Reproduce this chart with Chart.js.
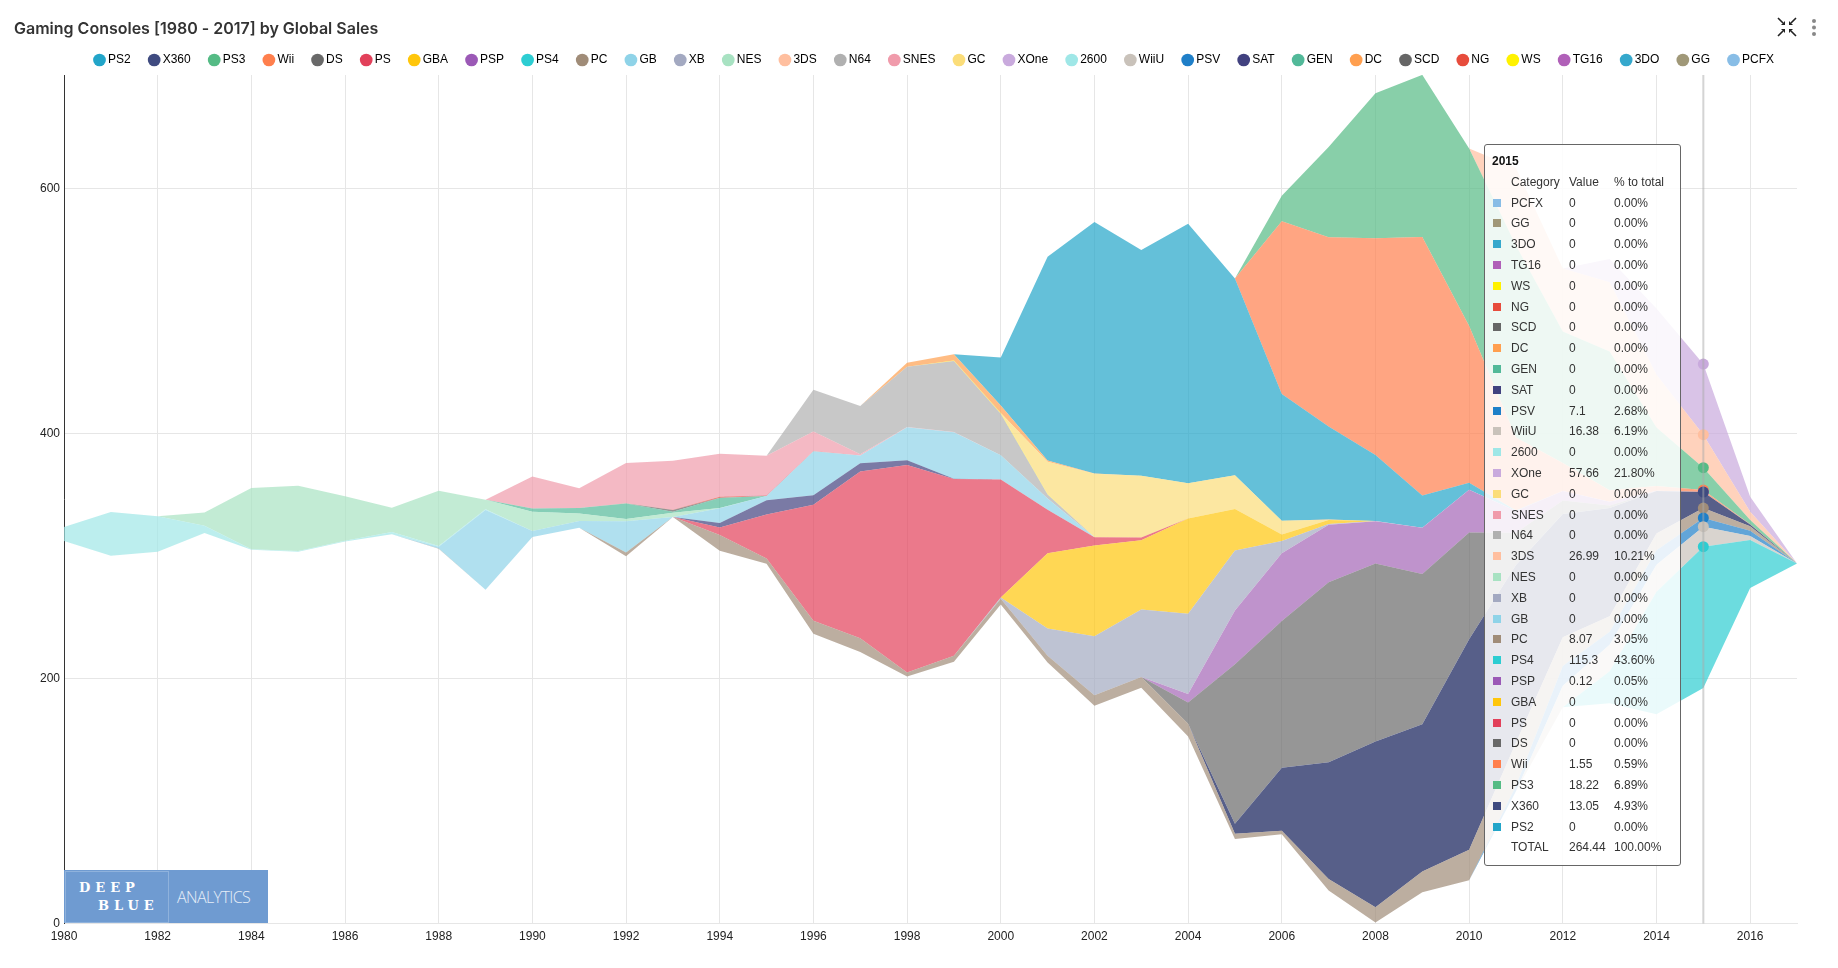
<!DOCTYPE html>
<html>
<head>
<meta charset="utf-8">
<title>Gaming Consoles</title>
<script src="https://cdn.jsdelivr.net/npm/chart.js@4"></script>
<style>
  body { margin: 0; background: #fff; font-family: "Liberation Sans", sans-serif; color: #333; }
  #wrap { position: relative; width: 1838px; height: 968px; overflow: hidden; }
  #logo { position: absolute; left: 64px; top: 870px; width: 204px; height: 53px; background: #6f9bd1; }
  #logo .box { position: absolute; left: 1px; top: 1px; width: 102px; height: 50px; border: 1px solid #8fb2dc; }
  #logo .w { position: absolute; color: #fff; font: bold 13px "DejaVu Serif"; letter-spacing: 5px; }
  #logo .a { position: absolute; left: 113px; top: 16px; color: #e6eef8; font: 300 16px "Open Sans"; letter-spacing: -0.6px; }
  #tip { position: absolute; left: 1484px; top: 144px; width: 195px; height: 720px; box-sizing: content-box;
         background: rgba(255,255,255,.86); border: 1px solid #666; border-radius: 3px; font-size: 12px; }
  #tip div { position: absolute; white-space: nowrap; line-height: 14px; }
  #tip .sq { width: 8px; height: 8px; }
  #icons { position: absolute; left: 1775px; top: 15px; }
</style>
</head>
<body>
<div id="wrap">
  <canvas id="grafico"></canvas>
  <div id="logo">
    <div class="box"></div>
    <div class="w" style="left:15px;top:10px">DEEP</div>
    <div class="w" style="left:34px;top:28px">BLUE</div>
    <div class="a">ANALYTICS</div>
  </div>
  <div id="tip"></div>
  <svg id="icons" width="50" height="24" viewBox="0 0 50 24">
    <g fill="none" stroke="#222" stroke-width="1.6">
      <path d="M3 3 L8 8 M21 3 L16 8 M3 21 L8 16 M21 21 L16 16"/>
    </g>
    <g fill="#222">
      <path d="M10 10 L10 6 L6 10 Z M14 10 L14 6 L18 10 Z M10 14 L10 18 L6 14 Z M14 14 L14 18 L18 14 Z"/>
    </g>
    <circle cx="39" cy="6" r="2" fill="#888"/>
    <circle cx="39" cy="12.500" r="2" fill="#888"/>
    <circle cx="39" cy="19" r="2" fill="#888"/>
  </svg>
</div>

<script>
const years = [1980,1981,1982,1983,1984,1985,1986,1987,1988,1989,1990,1991,1992,1993,1994,1995,1996,1997,1998,1999,
  2000,2001,2002,2003,2004,2005,2006,2007,2008,2009,2010,2011,2012,2013,2014,2015,2016,2017]

// lower edge of the stream
const base = [312.5,300.5,303.7,319,305.4,303.7,312,317.9,306.2,272.7,
  315.7,323.3,300,332,304.5,293.9,236.8,221.7,201.8,213.9,
  260.6,213.2,178,192.6,152.8,69,72.9,27,1,25.5,
  35.3,108,176.6,180,171,192.5,274,294]

const ps2 = [0,0,0,0,0,0,0,0,0,0, 0,0,0,0,0,0,0,0,0,0, 39.17,166.43,205.38,184.31,211.81,160.66,103.42,75.99,53.83,26.4, 5.64,0.45,0,0,0,0,0,0]
const x360 = [0,0,0,0,0,0,0,0,0,0, 0,0,0,0,0,0,0,0,0,0, 0,0,0,0,0,8.25,51.62,95.41,135.26,120.29, 172,145.12,100.72,88.58,34.74,13.05,1.52,0]
const ps3 = [0,0,0,0,0,0,0,0,0,0, 0,0,0,0,0,0,0,0,0,0, 0,0,0,0,0,0,20.96,73.81,118.52,132.5, 145,156.78,107.36,113.25,47.76,18.22,3.6,0]
const wii = [0,0,0,0,0,0,0,0,0,0, 0,0,0,0,0,0,0,0,0,0, 0,0,0,0,0,0,141,154.5,177,211, 128,59.65,22.94,9.36,3.75,1.55,0.18,0]
const ds = [0,0,0,0,0,0.02,0,0,0,0, 0,0,0,0,0,0,0,0,0,0, 0,0,0,0,17.27,130.14,119.81,146.94,145.31,122.6, 87,26.18,11.01,1.96,0.02,0,0,0]
const ps = [0,0,0,0,0,0,0,0,0,0, 0,0,0,0,6.03,35.96,94.7,136.16,169.49,144.53, 96.37,35.52,6.67,2.07,0,0,0,0,0,0, 0,0,0,0,0,0,0,0]
const gba = [0,0,0,0,0,0,0,0,0,0, 0,0,0,0,0,0,0,0,0,0, 0,61.53,74.16,56.67,77.91,33.86,5.28,3.4,0,0, 0,0,0,0,0,0,0,0]
const psp = [0,0,0,0,0,0,0,0,0,0, 0,0,0,0,0,0,0,0,0,0, 0,0,0,0,7.06,43.84,55.32,46.93,34.55,37.78, 35.04,17.82,7.69,3.14,0.24,0.12,0,0]
const ps4 = [0,0,0,0,0,0,0,0,0,0, 0,0,0,0,0,0,0,0,0,0, 0,0,0,0,0,0,0,0,0,0, 0,0,0,26,100,115.3,39.25,0.03]
const pc = [0,0,0,0,0,0.04,0,0,0.03,0, 0,0,3.03,0,12.87,4.22,10.58,11.27,3.26,4.74, 4.66,5.47,8.57,8.84,10.39,4.37,2.85,9.4,12.42,17.05, 24.99,35.16,23.45,12.66,13.63,8.07,3.6,0]
const gb = [0,0,0,0,0,0,0,0,1.43,64.98, 4.89,5.57,25.49,0,12.18,3.6,36.03,6.37,26.9,38, 19.76,9.24,0,0,0,0,0,0,0,0, 0,0,0,0,0,0,0,0]
const xb = [0,0,0,0,0,0,0,0,0,0, 0,0,0,0,0,0,0,0,0,0, 0.99,22.26,48.01,55.04,65.42,49.08,10.04,0.55,0.18,0, 0,0,0,0,0,0,0,0]
const nes = [0,0,0,10.96,50.09,53.44,36.41,19.76,45.01,7.85, 15.73,6.11,1.98,3.61,0.11,0,0,0,0,0, 0,0,0,0,0,0,0,0,0,0, 0,0,0,0,0,0,0,0]
const ds3 = [0,0,0,0,0,0,0,0,0,0, 0,0,0,0,0,0,0,0,0,0, 0,0,0,0,0,0,0,0,0,0, 0,63.2,51.36,56.57,43.14,26.99,6.6,0.01]
const n64 = [0,0,0,0,0,0,0,0,0,0, 0,0,0,0,0,0,34.1,39.5,49.24,57.87, 33.97,3.25,0.08,0,0,0,0,0,0,0, 0,0,0,0,0,0,0,0]
const snes = [0,0,0,0,0,0,0,0,0,0, 26.15,16.22,32.98,40.02,35.08,32.2,15.92,0.99,0.22,0.26, 0.01,0,0,0,0,0,0,0,0,0, 0,0,0,0,0,0,0,0]
const gc = [0,0,0,0,0,0,0,0,0,0, 0,0,0,0,0,0,0,0,0,0, 0,26.34,51.81,50.61,28.82,27.62,11.26,0.27,0,0, 0,0,0,0,0,0,0,0]
const xone = [0,0,0,0,0,0,0,0,0,0, 0,0,0,0,0,0,0,0,0,0, 0,0,0,0,0,0,0,0,0,0, 0,0,0,18.96,54.07,57.66,12.37,0]
const a2600 = [11.38,35.68,28.86,5.84,0.27,0.45,0.67,1.94,0.74,0.63, 0,0,0,0,0,0,0,0,0,0, 0,0,0,0,0,0,0,0,0,0, 0,0,0,0,0,0,0,0]
const wiiu = [0,0,0,0,0,0,0,0,0,0, 0,0,0,0,0,0,0,0,0,0, 0,0,0,0,0,0,0,0,0,0, 0,0,17.56,21.65,22.03,16.38,3.29,0]
const psv = [0,0,0,0,0,0,0,0,0,0, 0,0,0,0,0,0,0,0,0,0, 0,0,0,0,0,0,0,0,0,0, 0,4.63,16.19,10.59,11.9,7.1,4.25,0.01]
const sat = [0,0,0,0,0,0,0,0,0,0, 0,0,0,0,3.65,11.57,7.69,6.77,3.82,0.09, 0,0,0,0,0,0,0,0,0,0, 0,0,0,0,0,0,0,0]
const gen = [0,0,0,0,0,0,0,0,0,0, 2.6,4.33,12.64,0.65,8.13,0,0,0,0,0, 0,0,0,0,0,0,0,0,0,0, 0,0,0,0,0,0,0,0]
const dc = [0,0,0,0,0,0,0,0,0,0, 0,0,0,0,0,0,0,0,3.38,5.16, 5.99,1.07,0.29,0,0,0,0,0.02,0.04,0, 0,0,0,0,0,0,0,0]
const scd = [0,0,0,0,0,0,0,0,0,0, 0,0,0,1.5,0.36,0,0,0,0,0, 0,0,0,0,0,0,0,0,0,0, 0,0,0,0,0,0,0,0]
const ng = [0,0,0,0,0,0,0,0,0,0, 0,0,0,0.21,0.8,0.33,0.1,0,0,0, 0,0,0,0,0,0,0,0,0,0, 0,0,0,0,0,0,0,0]
const ws = [0,0,0,0,0,0,0,0,0,0, 0,0,0,0,0,0,0,0,0,0.46, 0.68,0.28,0,0,0,0,0,0,0,0, 0,0,0,0,0,0,0,0]
const tg16 = [0,0,0,0,0,0,0,0,0,0, 0,0,0,0,0,0.16,0,0,0,0, 0,0,0,0,0,0,0,0,0,0, 0,0,0,0,0,0,0,0]
const d3o = [0,0,0,0,0,0,0,0,0,0, 0,0,0,0,0.02,0.08,0,0,0,0, 0,0,0,0,0,0,0,0,0,0, 0,0,0,0,0,0,0,0]
const gg = [0,0,0,0,0,0,0,0,0,0, 0,0,0.04,0,0,0,0,0,0,0, 0,0,0,0,0,0,0,0,0,0, 0,0,0,0,0,0,0,0]
const pcfx = [0,0,0,0,0,0,0,0,0,0, 0,0,0,0,0,0,0.03,0,0,0, 0,0,0,0,0,0,0,0,0,0, 0,0,0,0,0,0,0,0]

const legendOrder = ['PS2','X360','PS3','Wii','DS','PS','GBA','PSP','PS4','PC','GB','XB','NES','3DS','N64','SNES','GC','XOne','2600','WiiU','PSV','SAT','GEN','DC','SCD','NG','WS','TG16','3DO','GG','PCFX']
const colors = ['#22a5c9','#3f4b80','#55bb85','#ff7f4d','#696969','#e2405a','#ffc60b','#9b59b6','#2dcdd2','#a08c78','#8fd3e8','#a3a9c1','#a8e2c2','#ffbf9f','#b0b0b0','#f09bab','#fbdd79','#c9aadd','#9fe7e7','#c9c2ba','#1f7fc8','#41417f','#52b999','#ff9f4f','#666666','#e74c3c','#fff200','#b060b8','#35a8cc','#a09878','#88bde6']
const series = {PS2:ps2,X360:x360,PS3:ps3,Wii:wii,DS:ds,PS:ps,GBA:gba,PSP:psp,PS4:ps4,PC:pc,GB:gb,XB:xb,NES:nes,'3DS':ds3,N64:n64,SNES:snes,GC:gc,XOne:xone,'2600':a2600,WiiU:wiiu,PSV:psv,SAT:sat,GEN:gen,DC:dc,SCD:scd,NG:ng,WS:ws,TG16:tg16,'3DO':d3o,GG:gg,PCFX:pcfx}

// these two fill darker / paler than the rest of the palette at .7
const fillOverride = { X360: 'rgb(87,95,137)', PSP: 'rgb(191,147,204)' }

// bottom to top in the stream
const stackOrder = ['PS4','WiiU','PSV','PC','X360','DS','PSP','XB','GBA','PS','SAT','GB','2600','NES','GEN','SCD','NG','GG','TG16','3DO','PCFX','SNES','N64','WS','GC','DC','PS2','Wii','PS3','3DS','XOne']

const hoverYear = 2015
const hoverIndex = years.indexOf(hoverYear)

function hexA(hex, a) {
  const n = parseInt(hex.slice(1), 16)
  return `rgba(${n >> 16},${(n >> 8) & 255},${n & 255},${a})`
}

const datasets = [{ label: 'base', data: base, fill: false, borderWidth: 0, pointRadius: 0, borderColor: 'transparent', backgroundColor: 'transparent' }]
stackOrder.forEach((name) => {
  const c = colors[legendOrder.indexOf(name)]
  datasets.push({
    label: name,
    data: series[name],
    fill: '-1',
    borderWidth: 0,
    borderColor: 'transparent',
    backgroundColor: fillOverride[name] || hexA(c, 0.7),
    pointBackgroundColor: c,
    pointBorderWidth: 0,
    pointRadius: (ctx) => (ctx.dataIndex === hoverIndex && series[name][hoverIndex] > 0 ? 5.5 : 0),
    // legend swatch has to stay solid
    legendColor: c
  })
})

// grey line over the hovered year
const crossLine = {
  id: 'crossLine',
  afterDatasetsDraw(chart) {
    const x = chart.scales.x.getPixelForValue(hoverIndex)
    const { top, bottom } = chart.chartArea
    const c = chart.ctx
    c.save()
    c.strokeStyle = 'rgba(170,170,170,.5)'
    c.lineWidth = 2
    c.beginPath()
    c.moveTo(x, top)
    c.lineTo(x, bottom)
    c.stroke()
    c.restore()
  }
}

// legend row sits a little right of the plot centre
const legendShift = {
  id: 'legendShift',
  afterLayout(chart) {
    chart.legend.left += 5
    chart.legend.right += 5
  }
}

Chart.defaults.font.family = '"Liberation Sans", sans-serif'
Chart.defaults.font.size = 12
Chart.defaults.color = '#222'

new Chart(document.getElementById('grafico'), {
  type: 'line',
  data: { labels: years, datasets: datasets },
  plugins: [crossLine, legendShift],
  options: {
    responsive: true,
    maintainAspectRatio: false,
    animation: false,
    events: [],
    elements: { line: { tension: 0 } },
    layout: { padding: { left: 14, right: 41, top: 0, bottom: 18 } },
    plugins: {
      title: {
        display: true,
        text: 'Gaming Consoles [1980 - 2017] by Global Sales',
        align: 'start',
        color: '#333',
        font: { family: 'Inter', size: 16, weight: '600', lineHeight: 1 },
        padding: { top: 21, bottom: -4 }
      },
      legend: {
        position: 'top',
        fullSize: false,
        maxHeight: 42,
        labels: {
          usePointStyle: true,
          pointStyle: 'circle',
          boxHeight: 9,
          boxWidth: 5,
          padding: 21,
          color: '#333',
          filter: (item) => item.text !== 'base',
          sort: (a, b) => legendOrder.indexOf(a.text) - legendOrder.indexOf(b.text),
          generateLabels: (chart) => chart.data.datasets.map((d, i) => ({
            text: d.label, fillStyle: d.legendColor, strokeStyle: d.legendColor, lineWidth: 0, pointStyle: 'circle', datasetIndex: i
          }))
        }
      },
      tooltip: { enabled: false }
    },
    scales: {
      x: {
        ticks: {
          autoSkip: false,
          maxRotation: 0,
          padding: 6,
          callback: (v, i) => (years[i] % 2 === 0 ? years[i] : null)
        },
        grid: { color: '#e6e6e6', drawTicks: false },
        border: { color: '#e6e6e6' }
      },
      y: {
        stacked: true,
        min: 0,
        max: 693,
        afterFit: (scale) => { scale.width = 50 },
        ticks: { stepSize: 200, includeBounds: false, padding: 4 },
        grid: { color: '#e6e6e6', drawTicks: false },
        border: { color: '#333' }
      }
    }
  }
})

// hover box, newest legend entry on top
const tip = document.getElementById('tip')
const rowH = 20.8
function tipCell(x, row, text, extra) {
  const d = document.createElement('div')
  d.style.left = x + 'px'
  d.style.top = (9 + row * rowH) + 'px'
  d.textContent = text
  if (extra) d.style.cssText += extra
  tip.appendChild(d)
}
tipCell(7, 0, String(hoverYear), 'font-weight:bold;color:#111')
tipCell(26, 1, 'Category')
tipCell(84, 1, 'Value')
tipCell(129, 1, '% to total')
const total = legendOrder.reduce((s, n) => s + series[n][hoverIndex], 0)
legendOrder.slice().reverse().forEach((name, i) => {
  const v = series[name][hoverIndex]
  const sq = document.createElement('div')
  sq.className = 'sq'
  sq.style.left = '8px'
  sq.style.top = (12 + (i + 2) * rowH) + 'px'
  sq.style.background = colors[legendOrder.indexOf(name)]
  tip.appendChild(sq)
  tipCell(26, i + 2, name)
  tipCell(84, i + 2, String(v))
  tipCell(129, i + 2, (v / total * 100).toFixed(2) + '%')
})
tipCell(26, 33, 'TOTAL')
tipCell(84, 33, total.toFixed(2))
tipCell(129, 33, '100.00%')
</script>
</body>
</html>
